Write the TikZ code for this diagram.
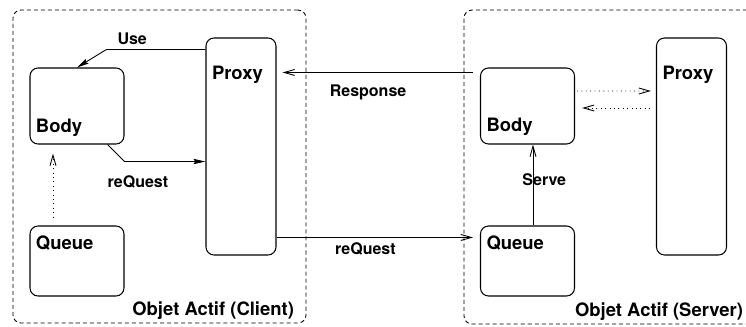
\documentclass[tikz,border=0pt]{standalone}
\usepackage{fontspec}
\setmainfont{TeX Gyre Heros}
\usetikzlibrary{arrows.meta}

\begin{document}
\begin{tikzpicture}
            [>=stealth, semithick,
             box/.style={draw, rounded corners=0.16cm, line width=0.6pt, inner sep=0pt, minimum width=1.88cm, minimum height=1.52cm},
             queuebox/.style={box, minimum height=1.40cm},
             proxybox/.style={box, minimum width=1.40cm, minimum height=4.34cm},
             groupbox/.style={draw, dash pattern=on 2.3pt off 1.7pt, rounded corners=0.16cm, line width=0.5pt, inner sep=0pt},
             boxtext/.style={font=\fontsize{10.5}{12}\selectfont\bfseries, inner sep=0pt},
             edgetext/.style={font=\fontsize{9.1}{11}\selectfont\bfseries, inner sep=0pt},
             call/.style={-{Stealth[length=6.8pt, width=3pt, inset=1pt]}, line width=0.5pt},
             msg/.style={-{Straight Barb[length=6pt, width=3.4pt]}, line width=0.5pt},
             link/.style={msg, dotted}]
            \useasboundingbox (0, 0) rectangle (14.92, -6.52);

            % active objects
            \node[groupbox, minimum width=5.86cm, minimum height=6.26cm] (client) at (3.19, -3.33) {};
            \node[groupbox, minimum width=5.82cm, minimum height=6.28cm] (server) at (12.19, -3.34) {};
            \node[boxtext, anchor=base east] (clientTxt) at ([shift={(-0.24, 0.16)}]client.south east) {Objet Actif (Client)};
            \node[boxtext, anchor=base east] (serverTxt) at ([shift={(-0.24, 0.16)}]server.south east) {Objet Actif (Server)};

            % client side
            \node[box] (cBody) at (1.54, -2.12) {};
            \node[queuebox] (cQueue) at (1.54, -5.22) {};
            \node[proxybox] (cProxy) at (4.82, -2.93) {};
            \node[boxtext, anchor=base west] (cBodyTxt) at ([shift={(0.12, 0.24)}]cBody.south west) {Body};
            \node[boxtext, anchor=base west] (cQueueTxt) at ([shift={(0.12, -0.48)}]cQueue.north west) {Queue};
            \node[boxtext, anchor=base west] (cProxyTxt) at ([shift={(0.12, -0.84)}]cProxy.north west) {Proxy};

            % server side
            \node[box] (sBody) at (10.55, -2.12) {};
            \node[queuebox] (sQueue) at (10.55, -5.22) {};
            \node[proxybox] (sProxy) at (13.83, -2.93) {};
            \node[boxtext, anchor=base west] (sBodyTxt) at ([shift={(0.12, 0.26)}]sBody.south west) {Body};
            \node[boxtext, anchor=base west] (sQueueTxt) at ([shift={(0.12, -0.48)}]sQueue.north west) {Queue};
            \node[boxtext, anchor=base west] (sProxyTxt) at ([shift={(0.12, -0.84)}]sProxy.north west) {Proxy};

            % connectors
            \draw[call] ([yshift=-0.24cm]cProxy.north west) -- ++(-1.98, 0)
                node[edgetext, above=0.08cm, pos=0.74] (useTxt) {Use} -- (cBody.north);
            \draw[call] ([xshift=-0.34cm]cBody.south east) -- ++(0.34, -0.34) coordinate (cBend)
                -- (cBend -| cProxy.west) node[edgetext, below=0.28cm, pos=0.165] (cReqTxt) {reQuest};
            \path [link] ([xshift=-0.48cm]cQueue.north) edge[shorten <=0.16cm, shorten >=0.18cm] ([xshift=-0.48cm]cBody.south);

            \coordinate (rsp) at ([yshift=-0.10cm]sBody.north west);
            \coordinate (req) at ([yshift=-0.24cm]sQueue.north west);
            \path [msg] (rsp) edge[shorten <=0.14cm, shorten >=0.12cm] node[edgetext, below=0.24cm, pos=0.55] (rspTxt) {Response} (rsp -| cProxy.east);
            \path [msg] (req -| cProxy.east) edge[shorten >=0.14cm] node[edgetext, below=0.10cm, pos=0.437] (sReqTxt) {reQuest} (req);
            \path [msg] ([xshift=0.11cm]sQueue.north) edge node[edgetext, anchor=west, xshift=-0.22cm, pos=0.56] (serveTxt) {Serve} ([xshift=0.11cm]sBody.south);
            \path [link] ([yshift=0.30cm]sBody.east) edge[shorten <=0.04cm, shorten >=0.10cm] ([yshift=1.11cm]sProxy.west);
            \path [link] ([yshift=0.77cm]sProxy.west) edge[shorten <=0.12cm, shorten >=0.14cm] ([yshift=-0.04cm]sBody.east);
        \end{tikzpicture}
\end{document}
